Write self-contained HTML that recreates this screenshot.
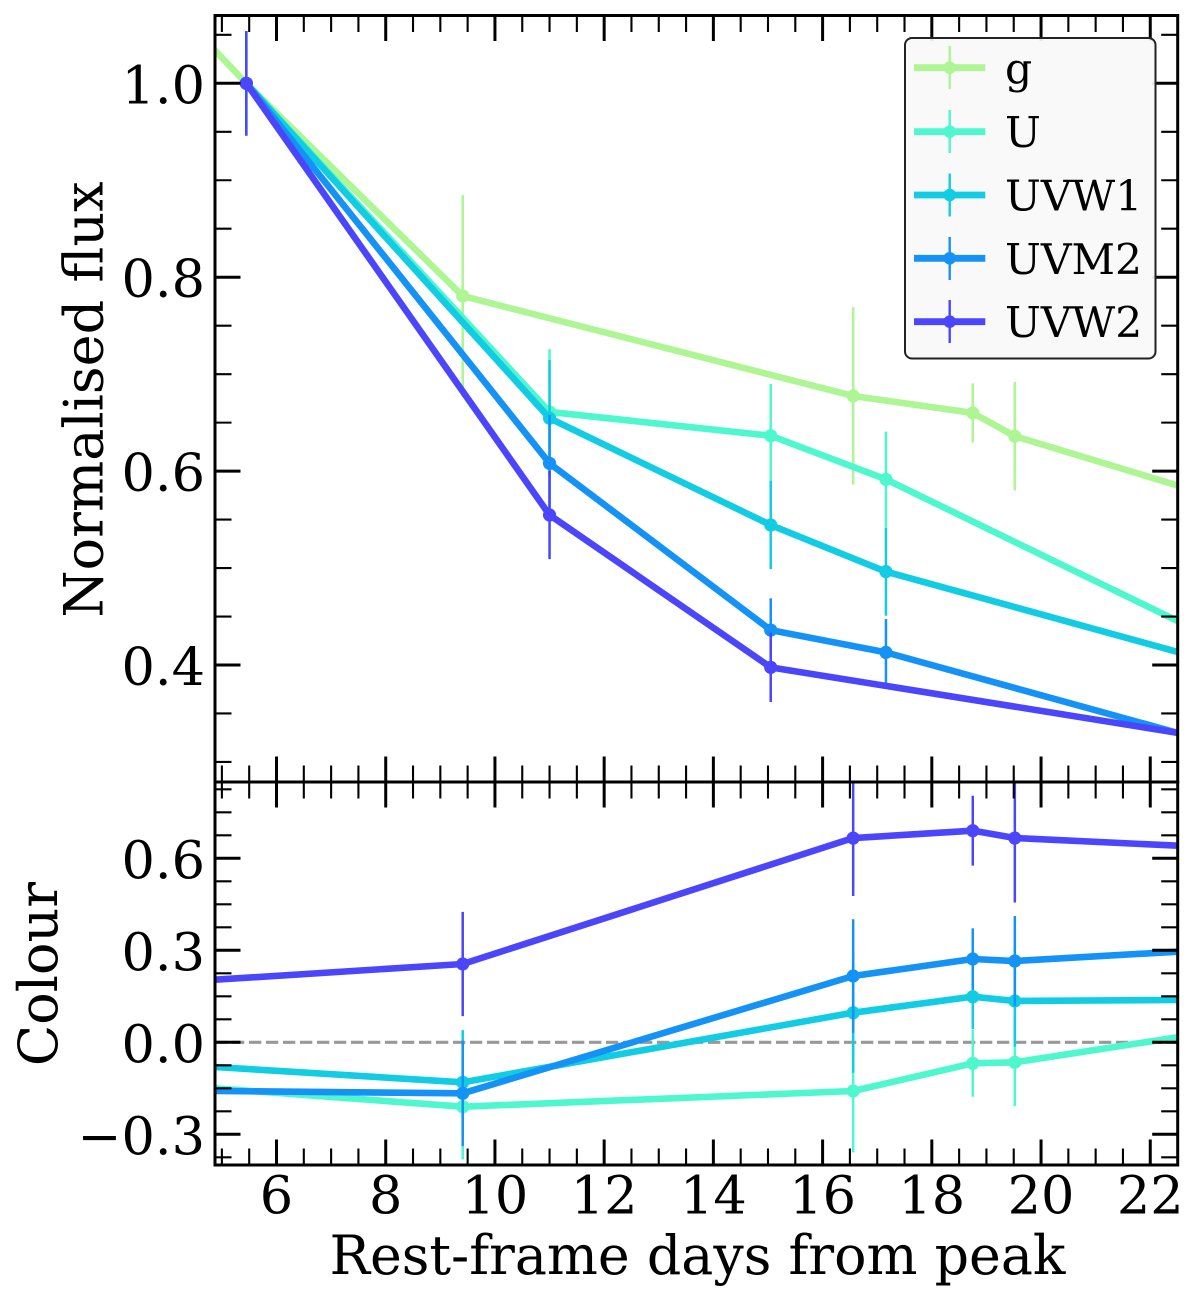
<!DOCTYPE html>
<html lang="en">
<head>
<meta charset="utf-8">
<title>Normalised flux and colour light curves</title>
<style>
html,body{margin:0;padding:0;background:#fff;}
svg{display:block;}
text{font-family:"DejaVu Serif","Liberation Serif",serif;fill:#000;}
</style>
</head>
<body>
<svg id="chart" xmlns="http://www.w3.org/2000/svg" width="1200" height="1302" viewBox="0 0 1200 1302">
<defs>
<clipPath id="clip-top"><rect x="215" y="15.5" width="962.7" height="766.5"/></clipPath>
<clipPath id="clip-bottom"><rect x="215" y="782" width="962.7" height="383"/></clipPath>
</defs>
<g id="bottom-series" clip-path="url(#clip-bottom)"></g>
<g id="top-series" clip-path="url(#clip-top)"></g>
<g id="axes"></g>
<text font-size="54" text-anchor="middle" transform="translate(102.5,399.5) rotate(-90)">Normalised flux</text>
<text font-size="54" text-anchor="middle" transform="translate(57,974) rotate(-90)">Colour</text>
<text font-size="53.8" text-anchor="middle" x="697.5" y="1274">Rest-frame days from peak</text>
<g>
<rect x="905" y="38" width="250.5" height="320.5" rx="7" ry="7" fill="#f9f9f9" fill-opacity="0.92" stroke="#222" stroke-width="2"/>
<g>
<line x1="914" x2="985.3" y1="67.7" y2="67.7" stroke="#aef593" stroke-width="6.8"/><line x1="949.7" x2="949.7" y1="46" y2="89" stroke="#aef593" stroke-width="2.4"/><circle cx="949.7" cy="67.7" r="6.3" fill="#aef593"/>
<text x="1005" y="83" font-size="42.5">g</text>
</g>
<g>
<line x1="914" x2="985.3" y1="131.7" y2="131.7" stroke="#4ef7cd" stroke-width="6.8"/><line x1="949.7" x2="949.7" y1="110" y2="153" stroke="#4ef7cd" stroke-width="2.4"/><circle cx="949.7" cy="131.7" r="6.3" fill="#4ef7cd"/>
<text x="1005" y="147" font-size="42.5">U</text>
</g>
<g>
<line x1="914" x2="985.3" y1="195" y2="195" stroke="#12cce3" stroke-width="6.8"/><line x1="949.7" x2="949.7" y1="173.5" y2="216.5" stroke="#12cce3" stroke-width="2.4"/><circle cx="949.7" cy="195" r="6.3" fill="#12cce3"/>
<text x="1005" y="210.5" font-size="42.5">UVW1</text>
</g>
<g>
<line x1="914" x2="985.3" y1="258.3" y2="258.3" stroke="#1592f5" stroke-width="6.8"/><line x1="949.7" x2="949.7" y1="237" y2="280" stroke="#1592f5" stroke-width="2.4"/><circle cx="949.7" cy="258.3" r="6.3" fill="#1592f5"/>
<text x="1005" y="273.8" font-size="42.5">UVM2</text>
</g>
<g>
<line x1="914" x2="985.3" y1="321.7" y2="321.7" stroke="#4b46fb" stroke-width="6.8"/><line x1="949.7" x2="949.7" y1="300" y2="343" stroke="#4b46fb" stroke-width="2.4"/><circle cx="949.7" cy="321.7" r="6.3" fill="#4b46fb"/>
<text x="1005" y="337" font-size="42.5">UVW2</text>
</g>
</g>
</svg>
<script>
// Flux panel data
const fluxDaysG = [4.6, 5.447, 9.41, 16.56, 18.75, 19.52, 22.8];
const fluxG = [1.05, 1.0, 0.7806, 0.6775, 0.66, 0.636, 0.58];
const fluxErrG = [null, 0.054, 0.104, 0.0915, 0.0305, 0.056, null];
const fluxDaysU = [5.447, 11.0, 15.05, 17.16, 22.8];
const fluxU = [1.0, 0.661, 0.6365, 0.5915, 0.4372];
const fluxErrU = [0.054, 0.0647, 0.0535, 0.0492, null];
const fluxDaysW1 = [5.447, 11.0, 15.05, 17.16, 22.8];
const fluxW1 = [1.0, 0.6545, 0.5444, 0.4963, 0.4088];
const fluxErrW1 = [0.054, 0.0601, 0.0455, 0.0455, null];
const fluxDaysM2 = [5.447, 11.0, 15.05, 17.16, 22.8];
const fluxM2 = [1.0, 0.608, 0.436, 0.413, 0.3253];
const fluxErrM2 = [0.054, 0.05, 0.0328, 0.0345, null];
const fluxDaysW2 = [5.447, 11.0, 15.05, 22.8];
const fluxW2 = [1.0, 0.5547, 0.3976, 0.3273];
const fluxErrW2 = [0.054, 0.0455, 0.0358, null];

// Colour panel data
const colourDays = [4.6, 9.41, 16.56, 18.75, 19.52, 22.8];
const colourU = [-0.1464, -0.21, -0.1588, -0.0685, -0.0652, 0.0245];
const colourErrU = [null, 0.172, 0.2, 0.109, 0.1425, null];
const colourW1 = [-0.0775, -0.1305, 0.0966, 0.1488, 0.1347, 0.1383];
const colourErrW1 = [null, 0.17, 0.196, 0.106, 0.149, null];
const colourM2 = [-0.1583, -0.1664, 0.2162, 0.2716, 0.265, 0.2986];
const colourErrM2 = [null, 0.172, 0.185, 0.1, 0.147, null];
const colourW2 = [0.2009, 0.2553, 0.666, 0.69, 0.666, 0.6385];
const colourErrW2 = [null, 0.17, 0.189, 0.114, 0.21, null];

// Tick values
const xMajorTicks = [6, 8, 10, 12, 14, 16, 18, 20, 22];
const xMinorTicks = [5, 5.5, 6.5, 7, 7.5, 8.5, 9, 9.5, 10.5, 11, 11.5, 12.5, 13, 13.5, 14.5, 15, 15.5, 16.5, 17, 17.5, 18.5, 19, 19.5, 20.5, 21, 21.5, 22.5];
const fluxMajorTicks = [0.4, 0.6, 0.8, 1.0];
const fluxMinorTicks = [0.3, 0.35, 0.45, 0.5, 0.55, 0.65, 0.7, 0.75, 0.85, 0.9, 0.95, 1.05];
const colourMajorTicks = [-0.3, 0, 0.3, 0.6];
const colourMinorTicks = [-0.375, -0.225, -0.15, -0.075, 0.075, 0.15, 0.225, 0.375, 0.45, 0.525, 0.675, 0.75, 0.825];
const fluxTickLabels = ["0.4", "0.6", "0.8", "1.0"];
const colourTickLabels = ["\u22120.3", "0.0", "0.3", "0.6"];
const xTickLabels = ["6", "8", "10", "12", "14", "16", "18", "20", "22"];

const COLORS = {g: '#aef593', u: '#4ef7cd', w1: '#12cce3', m2: '#1592f5', w2: '#4b46fb'};
const NS = 'http://www.w3.org/2000/svg';

function xAxis(v) { return 276.5 + (v - 6) * 54.61; }
function yFlux(v) { return 83.3 + (1 - v) * 969.5; }
function yColour(v) { return 1042.3 - v * 306.7; }

function make(tag, attrs, parent) {
  const el = document.createElementNS(NS, tag);
  for (const k in attrs) el.setAttribute(k, attrs[k]);
  parent.appendChild(el);
  return el;
}

function drawSeries(parent, name, color, days, values, errs, yAxis) {
  const g = make('g', {}, parent);
  
  
  days.forEach(function (d, i) {
    if (errs[i] === null) return;
    const bar = make('line', {x1: xAxis(d), x2: xAxis(d), y1: yAxis(values[i] + errs[i]), y2: yAxis(values[i] - errs[i]), stroke: color, 'stroke-width': 2.5}, g);
    
    
  });
  const pts = days.map(function (d, i) { return xAxis(d) + ',' + yAxis(values[i]); }).join(' ');
  const line = make('polyline', {points: pts, fill: 'none', stroke: color, 'stroke-width': 6.6, 'stroke-linejoin': 'round'}, g);
  
  
  days.forEach(function (d, i) {
    const dot = make('circle', {cx: xAxis(d), cy: yAxis(values[i]), r: 6.6, fill: color}, g);
    
    
  });
}

const topG = document.getElementById('top-series');
drawSeries(topG, 'flux-series-g', COLORS.g, fluxDaysG, fluxG, fluxErrG, yFlux);
drawSeries(topG, 'flux-series-u', COLORS.u, fluxDaysU, fluxU, fluxErrU, yFlux);
drawSeries(topG, 'flux-series-uvw1', COLORS.w1, fluxDaysW1, fluxW1, fluxErrW1, yFlux);
drawSeries(topG, 'flux-series-uvm2', COLORS.m2, fluxDaysM2, fluxM2, fluxErrM2, yFlux);
drawSeries(topG, 'flux-series-uvw2', COLORS.w2, fluxDaysW2, fluxW2, fluxErrW2, yFlux);

const botG = document.getElementById('bottom-series');
const zero = make('line', {x1: 215, x2: 1177.7, y1: yColour(0), y2: yColour(0), stroke: '#999', 'stroke-width': 3.2, 'stroke-dasharray': '12.3 4.7'}, botG);


drawSeries(botG, 'colour-series-u', COLORS.u, colourDays, colourU, colourErrU, yColour);
drawSeries(botG, 'colour-series-uvw1', COLORS.w1, colourDays, colourW1, colourErrW1, yColour);
drawSeries(botG, 'colour-series-uvm2', COLORS.m2, colourDays, colourM2, colourErrM2, yColour);
drawSeries(botG, 'colour-series-uvw2', COLORS.w2, colourDays, colourW2, colourErrW2, yColour);

// Axes
const axesG = document.getElementById('axes');
const LEFT = 215, RIGHT = 1177.7, TOP = 15.5, MID = 782, BOTTOM = 1165;

function tick(x1, y1, x2, y2, major, name) {
  const t = make('line', {x1: x1, y1: y1, x2: x2, y2: y2, stroke: '#000', 'stroke-width': major ? 3 : 2.1}, axesG);
  
  
}

function xTicks(values, len, name, major) {
  values.forEach(function (v) {
    const x = xAxis(v);
    tick(x, TOP, x, TOP + len, major, name);
    tick(x, MID, x, MID - len, major, name);
    tick(x, MID, x, MID + len, major, name);
    tick(x, BOTTOM, x, BOTTOM - len, major, name);
  });
}
xTicks(xMajorTicks, 25.5, 'x-major-tick', true);
xTicks(xMinorTicks, 16.5, 'x-minor-tick', false);

function yTicks(values, yAxis, len, name, major) {
  values.forEach(function (v) {
    const y = yAxis(v);
    tick(LEFT, y, LEFT + len, y, major, name);
    tick(RIGHT, y, RIGHT - len, y, major, name);
  });
}
yTicks(fluxMajorTicks, yFlux, 25.5, 'flux-major-tick', true);
yTicks(fluxMinorTicks, yFlux, 16.5, 'flux-minor-tick', false);
yTicks(colourMajorTicks, yColour, 25.5, 'colour-major-tick', true);
yTicks(colourMinorTicks, yColour, 16.5, 'colour-minor-tick', false);

const frames = [[LEFT, TOP, RIGHT - LEFT, MID - TOP, 'flux-panel-frame'], [LEFT, MID, RIGHT - LEFT, BOTTOM - MID, 'colour-panel-frame']];
frames.forEach(function (f) {
  const r = make('rect', {x: f[0], y: f[1], width: f[2], height: f[3], fill: 'none', stroke: '#000', 'stroke-width': 3}, axesG);
  
  
});

function label(x, y, str, anchor, name) {
  const t = make('text', {x: x, y: y, 'font-size': 52.5, 'text-anchor': anchor}, axesG);
  
  
  t.textContent = str;
}
xMajorTicks.forEach(function (v, i) { label(xAxis(v), 1213.5, xTickLabels[i], 'middle', 'x-tick-label'); });
fluxMajorTicks.forEach(function (v, i) { label(205, yFlux(v) + 20, fluxTickLabels[i], 'end', 'flux-tick-label'); });
colourMajorTicks.forEach(function (v, i) { label(205, yColour(v) + 20, colourTickLabels[i], 'end', 'colour-tick-label'); });
</script>
</body>
</html>
